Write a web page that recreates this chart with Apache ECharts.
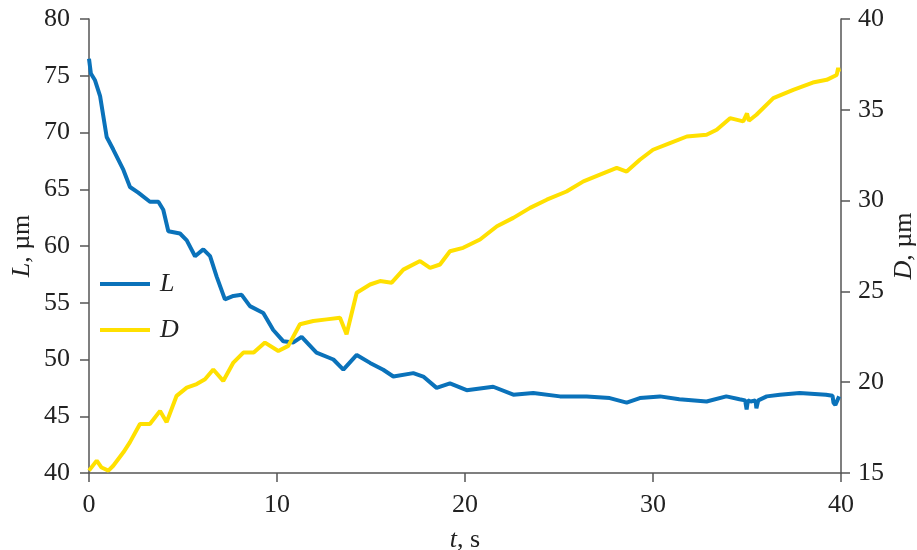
<!DOCTYPE html>
<html><head><meta charset="utf-8">
<script src="https://cdn.jsdelivr.net/npm/echarts@6/dist/echarts.min.js"></script>
<style>html,body{margin:0;padding:0;background:#fff}#c{width:917px;height:550px}</style>
</head><body><div id="c"></div>
<script>
const tL = [0,0.1,0.32,0.59,0.94,1.29,1.83,2.18,2.62,3.24,3.69,3.95,4.22,4.84,5.2,5.64,6.08,6.44,6.79,7.23,7.68,8.12,8.56,9.27,9.8,10.34,10.87,11.31,12.1,13.0,13.53,14.24,14.95,15.65,16.19,17.25,17.78,18.49,19.2,20.09,21.5,22.57,23.63,25.05,26.47,27.7,28.6,29.3,30.37,31.4,32.85,33.9,34.6,34.9,34.98,35.05,35.2,35.45,35.5,35.6,36.05,36.75,37.8,39.2,39.55,39.6,39.7,39.9];
const vL = [76.5,75.2,74.6,73.2,69.6,68.5,66.7,65.2,64.7,63.9,63.9,63.2,61.3,61.1,60.5,59.1,59.7,59.1,57.3,55.3,55.6,55.7,54.7,54.1,52.6,51.6,51.5,52.0,50.6,50.0,49.1,50.4,49.7,49.1,48.5,48.8,48.5,47.5,47.9,47.3,47.6,46.9,47.05,46.75,46.75,46.6,46.2,46.6,46.75,46.5,46.3,46.75,46.5,46.4,45.6,46.4,46.3,46.4,45.7,46.4,46.75,46.9,47.05,46.9,46.8,46.2,46.0,46.75];
const tD = [0,0.41,0.67,1.03,1.29,1.83,2.18,2.71,3.24,3.78,4.13,4.66,5.2,5.73,6.17,6.61,7.14,7.68,8.21,8.76,9.36,10.07,10.6,11.22,11.93,12.64,13.35,13.7,14.24,14.95,15.48,16.1,16.72,17.61,18.14,18.67,19.2,19.9,20.8,21.7,22.57,23.46,24.35,25.4,26.3,27.18,28.07,28.6,29.3,30.0,30.9,31.8,32.85,33.39,34.1,34.8,35.0,35.1,35.5,36.4,37.46,38.5,39.24,39.77,39.85,39.9];
const vD = [15.13,15.68,15.3,15.13,15.4,16.14,16.7,17.7,17.7,18.42,17.8,19.25,19.7,19.9,20.16,20.7,20.07,21.08,21.63,21.63,22.18,21.72,22.0,23.19,23.37,23.46,23.55,22.64,24.93,25.38,25.57,25.48,26.2,26.67,26.3,26.48,27.21,27.4,27.86,28.59,29.05,29.6,30.05,30.5,31.06,31.43,31.8,31.6,32.25,32.8,33.17,33.53,33.63,33.9,34.54,34.36,34.8,34.4,34.73,35.64,36.1,36.5,36.65,36.92,37.3,37.1];
const xTicks = [0,10,20,30,40];
const leftRange = [40,80], rightRange = [15,40];

const font = '"Liberation Serif","DejaVu Serif",serif';
const FS = 26;
const axisLine = {show:true, lineStyle:{color:'#555', width:1.5}};
const axisTick = {show:true, inside:false, length:9, lineStyle:{color:'#555', width:1.5}};
const lab = {color:'#222', fontFamily:font, fontSize:FS};
const nameStyle = {color:'#222', fontFamily:font, fontSize:FS, rich:{i:{fontStyle:'italic', fontFamily:font, fontSize:FS, color:'#222'}}};

const chart = echarts.init(document.getElementById('c'), null, {renderer:'canvas'});
chart.setOption({
  animation:false,
  backgroundColor:'#fff',
  grid:{left:89, right:76, top:19, bottom:77, containLabel:false, outerBoundsMode:'none'},
  legend:{
    left:95, top:266, orient:'vertical', itemGap:20, itemWidth:50, itemHeight:4, icon:'rect',
    textStyle:{fontFamily:font, fontSize:FS, fontStyle:'italic', color:'#222', padding:[0,0,0,5]},
    data:['L','D']
  },
  xAxis:{
    type:'value', min:xTicks[0], max:xTicks[xTicks.length-1], interval:10,
    axisLine, axisTick, splitLine:{show:false},
    axisLabel:Object.assign({margin:19}, lab),
    name:'{i|t}, s', nameLocation:'middle', nameGap:54, nameMoveOverlap:false, nameTextStyle:nameStyle
  },
  yAxis:[
    {type:'value', min:leftRange[0], max:leftRange[1], interval:5, position:'left',
     axisLine, axisTick, splitLine:{show:false},
     axisLabel:Object.assign({margin:19}, lab),
     name:'{i|L}, µm', nameLocation:'middle', nameRotate:90, nameGap:54, nameMoveOverlap:false, nameTextStyle:nameStyle},
    {type:'value', min:rightRange[0], max:rightRange[1], interval:5, position:'right',
     axisLine, axisTick, splitLine:{show:false},
     axisLabel:Object.assign({margin:17}, lab),
     name:'{i|D}, µm', nameLocation:'middle', nameRotate:90, nameGap:50, nameMoveOverlap:false, nameTextStyle:nameStyle}
  ],
  series:[
    {name:'L', type:'line', yAxisIndex:0, symbol:'none', smooth:false,
     lineStyle:{color:'#0a72ba', width:4}, itemStyle:{color:'#0a72ba'},
     data:tL.map((t,i)=>[t,vL[i]])},
    {name:'D', type:'line', yAxisIndex:1, symbol:'none', smooth:false,
     lineStyle:{color:'#ffe000', width:4}, itemStyle:{color:'#ffe000'},
     data:tD.map((t,i)=>[t,vD[i]])}
  ]
});
</script></body></html>
